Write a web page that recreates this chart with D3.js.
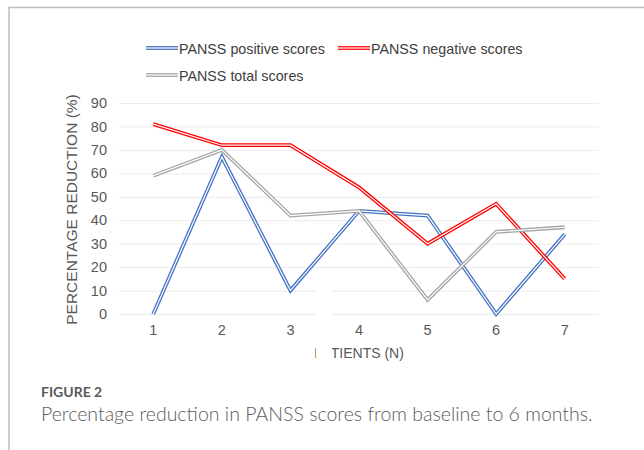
<!DOCTYPE html>
<html>
<head>
<meta charset="utf-8">
<script src="https://cdn.jsdelivr.net/npm/d3@7"></script>
<style>
  body { margin: 0; background: #fff; }
  svg text { font-family: "Liberation Sans", Arial, sans-serif; }
</style>
</head>
<body>
<div id="chart"></div>
<script>
var patients = ["1", "2", "3", "4", "5", "6", "7"];
var positiveScores = [0, 67, 10, 44, 42, 0, 34];
var negativeScores = [81, 72, 72, 54, 30, 47, 15];
var totalScores = [59, 70, 42, 44, 6, 35, 37];
var yTicks = [0, 10, 20, 30, 40, 50, 60, 70, 80, 90];

var series = [
  { name: "PANSS positive scores", values: positiveScores, color: "#4472C4" },
  { name: "PANSS negative scores", values: negativeScores, color: "#FF0000" },
  { name: "PANSS total scores", values: totalScores, color: "#A5A5A5" }
];

var svgWidth = 644;
var svgHeight = 450;
var margin = { top: 103, right: 45, bottom: 136, left: 119 };
var width = svgWidth - margin.left - margin.right;
var height = svgHeight - margin.top - margin.bottom;

var svg = d3.select("#chart")
  .append("svg")
  .attr("width", svgWidth)
  .attr("height", svgHeight);

// page frame (top and left rules)
svg.append("path")
  .attr("d", "M9,450 V7.5 H644")
  .attr("fill", "none")
  .attr("stroke", "#bdbdbd")
  .attr("stroke-width", 1.5);

var chartGroup = svg.append("g")
  .attr("transform", `translate(${margin.left}, ${margin.top})`);

var x = d3.scaleBand().domain(patients).range([0, width]);
var y = d3.scaleLinear().domain([0, 90]).range([height, 0]);

// gridlines
chartGroup.append("g")
  .call(d3.axisLeft(y).tickValues(yTicks).tickSize(-width).tickFormat(""))
  .call(g => g.select(".domain").remove())
  .selectAll("line")
  .attr("stroke", "#ececec")
  .attr("stroke-width", 1);

// y tick labels
chartGroup.append("g")
  .call(d3.axisLeft(y).tickValues(yTicks).tickSize(0).tickPadding(12))
  .call(g => g.select(".domain").remove())
  .selectAll("text")
  .attr("fill", "#595959")
  .style("font-size", "14.5px");

// x tick labels
chartGroup.append("g")
  .attr("transform", `translate(0, ${height})`)
  .call(d3.axisBottom(x).tickSize(0).tickPadding(11))
  .call(g => g.select(".domain").remove())
  .selectAll("text")
  .attr("fill", "#595959")
  .style("font-size", "14.5px");

// double lines: colored stroke with thin white core
var line = d3.line()
  .x((d, i) => x(patients[i]) + x.bandwidth() / 2)
  .y(d => y(d));

series.forEach(function(s) {
  chartGroup.append("path")
    .datum(s.values)
    .attr("d", line)
    .attr("fill", "none")
    .attr("stroke", s.color)
    .attr("stroke-width", 3.8);
  chartGroup.append("path")
    .datum(s.values)
    .attr("d", line)
    .attr("fill", "none")
    .attr("stroke", "#fff")
    .attr("stroke-width", 1.2);
});

// axis titles
svg.append("text")
  .attr("transform", `translate(77, ${margin.top + height / 2 + 1}) rotate(-90)`)
  .attr("text-anchor", "middle")
  .attr("fill", "#595959")
  .style("font-size", "15.5px")
  .text("PERCENTAGE REDUCTION (%)");

svg.append("text")
  .attr("x", margin.left + width / 2)
  .attr("y", 358)
  .attr("text-anchor", "middle")
  .attr("fill", "#595959")
  .style("font-size", "14px")
  .text("PATIENTS (N)");

// white patch over part of the axis title and bottom gridlines
svg.append("rect")
  .attr("x", 316)
  .attr("y", 282)
  .attr("width", 16)
  .attr("height", 80)
  .attr("fill", "#fff");

// legend
var legendPos = [[146, 48], [338, 48], [146, 75]];
var legend = svg.append("g");
series.forEach(function(s, i) {
  var g = legend.append("g")
    .attr("transform", `translate(${legendPos[i][0]}, ${legendPos[i][1]})`);
  g.append("line").attr("x1", 0).attr("x2", 32)
    .attr("stroke", s.color).attr("stroke-width", 3.8);
  g.append("line").attr("x1", 0).attr("x2", 32)
    .attr("stroke", "#fff").attr("stroke-width", 1.2);
  g.append("text")
    .attr("x", 33)
    .attr("y", 5.5)
    .attr("fill", "#404040")
    .style("font-size", "14.3px")
    .text(s.name);
});

// figure caption
svg.append("text")
  .attr("x", 41)
  .attr("y", 397)
  .attr("fill", "#5a5a5a")
  .style("font-family", "Lato, sans-serif")
  .style("font-weight", "bold")
  .style("font-size", "14px")
  .text("FIGURE 2");

svg.append("text")
  .attr("x", 41)
  .attr("y", 421)
  .attr("fill", "#5c5c5c")
  .style("font-family", "Lato, sans-serif")
  .style("font-weight", "300")
  .style("font-size", "19.5px")
  .text("Percentage reduction in PANSS scores from baseline to 6 months.");
</script>
</body>
</html>
